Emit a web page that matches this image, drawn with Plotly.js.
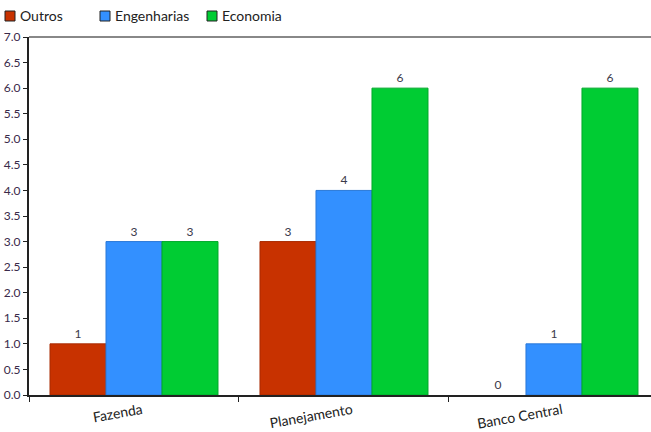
<!DOCTYPE html>
<html>
<head>
<meta charset="utf-8">
<script src="https://cdn.plot.ly/plotly-3.0.1.min.js"></script>
<style>
  html, body { margin: 0; padding: 0; background: #fff; }
  #chart { width: 651px; height: 432px; }
</style>
</head>
<body>
<div id="chart"></div>
<script>
// Ministries (categories) and number of people per academic background
const categories = ['Fazenda', 'Planejamento', 'Banco Central'];
const outros = [1, 3, 0];
const engenharias = [3, 4, 1];
const economia = [3, 6, 6];

const seriesNames = ['Outros', 'Engenharias', 'Economia'];
const seriesValues = [outros, engenharias, economia];
const fillColors = ['#C83200', '#3390FF', '#00CC33'];
const edgeColors = ['#A82A00', '#2A78D8', '#00A82A'];

const FONT = 'Lato, sans-serif';

const traces = seriesValues.map((vals, i) => ({
  type: 'bar',
  name: seriesNames[i],
  x: categories,
  y: vals,
  text: vals.map(String),
  textposition: 'outside',
  cliponaxis: false,
  textfont: { family: FONT, size: 12, color: '#3a3a4a' },
  marker: {
    color: fillColors[i],
    // empty bars get no outline
    line: { color: edgeColors[i], width: vals.map(v => (v === 0 ? 0 : 1)) }
  },
  hoverinfo: 'x+y+name'
}));

// Legend row across the top, built from the series names and colours
const legendX = [5, 100, 207];  // pixel offsets of each swatch
const W = 651, H = 432, ML = 29, MR = 0, MT = 37, MB = 37;
const plotW = W - ML - MR, plotH = H - MT - MB;
const px2x = p => (p - ML) / plotW;
const py2y = p => (H - MB - p) / plotH;

const legendShapes = seriesNames.map((n, i) => ({
  type: 'rect', xref: 'paper', yref: 'paper',
  x0: px2x(legendX[i]), x1: px2x(legendX[i] + 10),
  y0: py2y(21), y1: py2y(11),
  fillcolor: fillColors[i],
  line: { color: '#222', width: 1 }
}));
const legendLabels = seriesNames.map((n, i) => ({
  xref: 'paper', yref: 'paper',
  x: px2x(legendX[i] + 13), y: py2y(16),
  xanchor: 'left', yanchor: 'middle',
  text: n, showarrow: false,
  font: { family: FONT, size: 14, color: '#222' }
}));

const layout = {
  width: W,
  height: H,
  margin: { l: ML, r: MR, t: MT, b: MB, autoexpand: false },
  paper_bgcolor: '#fff',
  plot_bgcolor: '#fff',
  font: { family: FONT, size: 12, color: '#333' },
  barmode: 'group',
  bargap: 0.2,
  bargroupgap: 0,
  showlegend: false,
  xaxis: {
    type: 'category',
    range: [-0.5, 2.462],
    showgrid: false,
    zeroline: false,
    showline: true,
    linecolor: '#222',
    linewidth: 2,
    ticks: 'outside',
    tickson: 'boundaries',
    ticklen: 5,
    tickcolor: '#222',
    tickangle: -10,
    ticklabelshift: 8,
    automargin: false,
    tickfont: { family: FONT, size: 14, color: '#222' }
  },
  yaxis: {
    range: [0, 7],
    dtick: 0.5,
    tick0: 0,
    tickformat: '.1f',
    showgrid: false,
    zeroline: false,
    showline: true,
    linecolor: '#222',
    linewidth: 2,
    ticks: 'outside',
    ticklen: 4,
    tickcolor: '#222',
    automargin: false,
    tickfont: { family: FONT, size: 12, color: '#3a2a4a' }
  },
  shapes: [{
    type: 'line', xref: 'paper', yref: 'paper',
    x0: 0, x1: 1, y0: 1, y1: 1,
    line: { color: '#888', width: 2 }
  }].concat(legendShapes),
  annotations: legendLabels
};

Plotly.newPlot('chart', traces, layout, { displayModeBar: false, staticPlot: true });
</script>
</body>
</html>
